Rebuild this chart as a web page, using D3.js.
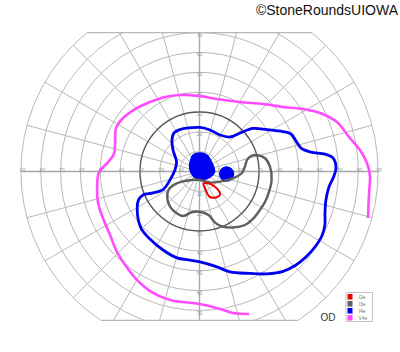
<!DOCTYPE html>
<html>
<head>
<meta charset="utf-8">
<script src="https://cdn.jsdelivr.net/npm/d3@7"></script>
<style>
  body { margin: 0; background: #fff; }
  svg { display: block; font-family: "Liberation Sans", Arial, sans-serif; }
</style>
</head>
<body>
<script>
// Goldmann field, right eye (OD)
// points are [meridian in degrees (0 = right, 90 = up), eccentricity in degrees]

const ringValues = [10, 20, 30, 40, 50, 60, 70, 80, 90];
const meridians = d3.range(0, 360, 15);
const horizontalTicks = [10, 20, 30, 40, 50, 60, 70, 80, 90];
const verticalTicks = [10, 20, 30, 40, 50, 60, 70];
const superiorLimit = 70;
const inferiorLimit = 75;

const isopterNames = ['I2e', 'I3e', 'I4e', 'V4e'];
const isopterColors = ['#ee0000', '#5f5f5f', '#0000f0', '#ff4cff'];

const v4e = [
  [344.6, 88.1], [352.1, 86.2], [358.8, 85.9], [2.9, 84.5], [7.6, 81.6], [13.0, 77.3],
  [19.8, 73.6], [25.9, 67.5], [31.1, 60.9], [37.7, 53.2], [46.7, 46.7], [59.8, 40.5],
  [76.4, 37.6], [89.6, 38.0], [104.3, 39.8], [114.8, 41.4], [125.5, 43.0], [135.9, 45.2],
  [145.0, 47.0], [152.5, 47.4], [162.6, 44.6], [168.5, 44.0], [174.5, 46.5], [180.3, 50.6],
  [188.6, 52.2], [197.2, 53.5], [205.7, 54.0], [215.4, 55.3], [224.3, 58.1], [231.5, 60.2],
  [238.8, 62.7], [247.5, 65.2], [257.1, 66.4], [270.2, 66.8], [278.5, 70.0], [283.3, 73.3],
  [289.2, 76.0]
];

const i4e = [
  [89.3, 22.2], [75.8, 21.6], [60.7, 21.1], [48.5, 23.2], [43.5, 28.2], [38.8, 34.6],
  [31.9, 40.0], [25.6, 46.6], [22.3, 49.8], [17.5, 51.0], [13.0, 52.5], [9.9, 57.0],
  [7.9, 63.8], [5.8, 67.6], [1.5, 68.8], [358.1, 67.8], [353.2, 65.7], [347.3, 65.3],
  [341.7, 66.6], [336.9, 68.7], [332.2, 69.7], [326.8, 69.5], [321.2, 68.8], [315.9, 67.7],
  [309.9, 65.6], [303.4, 61.8], [296.3, 57.3], [286.9, 52.9], [280.4, 48.9], [270.3, 45.6],
  [260.6, 44.9], [255.4, 45.0], [245.1, 43.6], [233.7, 42.2], [224.0, 41.0], [214.4, 37.9],
  [205.0, 33.9], [202.6, 30.8], [204.8, 25.8], [206.3, 20.5], [196.1, 15.5], [176.5, 12.4],
  [157.6, 12.5], [140.9, 17.2], [131.1, 21.1], [123.5, 23.3], [114.9, 23.3], [104.8, 22.7]
];

const i3e = [
  [273.4, 4.3], [313.7, 7.7], [333.5, 11.5], [348.5, 17.2], [357.6, 21.3], [6.0, 23.0],
  [13.6, 24.6], [16.8, 27.1], [16.0, 30.1], [11.4, 33.7], [3.9, 35.6], [353.3, 36.6],
  [343.6, 36.5], [335.0, 36.4], [327.5, 36.1], [318.4, 36.0], [310.4, 35.4], [300.9, 32.9],
  [292.2, 29.9], [286.9, 26.9], [281.7, 22.4], [270.7, 20.3], [259.2, 20.9], [250.0, 23.9],
  [241.4, 24.0], [230.0, 23.1], [219.8, 21.1], [210.8, 18.2], [207.3, 14.8], [209.8, 10.3],
  [227.5, 5.8]
];

const i2e = [
  [288.4, 6.4], [308.4, 7.7], [315.0, 10.3], [315.0, 13.9], [311.1, 15.7], [302.4, 15.5],
  [292.4, 13.9], [289.2, 11.5], [288.4, 8.8]
];

// filled scotomas (I4e not seen)
const centralScotoma = [
  [111.5, 8.9], [88.5, 9.3], [65.6, 9.1], [46.3, 8.0], [19.7, 7.5], [358.1, 7.6],
  [332.4, 6.0], [293.6, 4.4], [243.4, 3.9], [190.0, 4.3], [151.2, 5.7], [124.2, 7.6]
];
const blindSpot = [
  [4.0, 10.9], [9.6, 13.5], [5.4, 15.9], [355.8, 17.2], [344.4, 16.0], [339.8, 13.1],
  [347.6, 10.6]
];

const width = 400;
const height = 352;
const cx = 199.5;
const cy = 171.5;

const r = d3.scaleLinear()
  .domain([0, 90])
  .range([0, 178.6]);

const toAngle = m => (90 - m) * Math.PI / 180;

const svg = d3.select('body')
  .append('svg')
  .attr('width', width)
  .attr('height', height);

svg.append('text')
  .text('\u00a9StoneRoundsUIOWA')
  .attr('x', 398)
  .attr('y', 15)
  .attr('text-anchor', 'end')
  .attr('font-size', 14)
  .attr('fill', '#111');

const chart = svg.append('g')
  .attr('transform', `translate(${cx}, ${cy})`);

const yTop = -r(superiorLimit);
const yBottom = r(inferiorLimit);

svg.append('clipPath')
  .attr('id', 'field')
  .append('rect')
  .attr('x', -r(90) - 2)
  .attr('y', yTop)
  .attr('width', 2 * r(90) + 4)
  .attr('height', yBottom - yTop);

const grid = chart.append('g')
  .attr('clip-path', 'url(#field)');

grid.selectAll('line.radial')
  .data(meridians.filter(m => m % 90 != 0))
  .enter()
  .append('line')
  .attr('class', 'radial')
  .attr('x1', 0)
  .attr('y1', 0)
  .attr('x2', d => r(90) * Math.cos(d * Math.PI / 180))
  .attr('y2', d => -r(90) * Math.sin(d * Math.PI / 180))
  .attr('stroke', '#b8b8b8')
  .attr('stroke-width', 1);

grid.selectAll('line.axis')
  .data([0, 90, 180, 270])
  .enter()
  .append('line')
  .attr('class', 'axis')
  .attr('x1', 0)
  .attr('y1', 0)
  .attr('x2', d => r(90) * Math.cos(d * Math.PI / 180))
  .attr('y2', d => -r(90) * Math.sin(d * Math.PI / 180))
  .attr('stroke', '#a8a8a8')
  .attr('stroke-width', 1.4);

grid.selectAll('circle.ring')
  .data(ringValues)
  .enter()
  .append('circle')
  .attr('class', 'ring')
  .attr('r', d => r(d))
  .attr('fill', 'none')
  .attr('stroke', d => d == 30 ? '#555' : '#b8b8b8')
  .attr('stroke-width', d => d == 30 ? 1.4 : 1);

// flat top and bottom of the chart
[yTop, yBottom].forEach(y => {
  const half = Math.sqrt(r(90) * r(90) - y * y);
  chart.append('line')
    .attr('x1', -half)
    .attr('x2', half)
    .attr('y1', y)
    .attr('y2', y)
    .attr('stroke', '#b8b8b8')
    .attr('stroke-width', 1.2);
});

const labels = chart.append('g')
  .attr('font-size', 5)
  .attr('fill', '#9a9a9a')
  .attr('text-anchor', 'middle')
  .attr('dominant-baseline', 'central');

labels.selectAll('text.right')
  .data(horizontalTicks)
  .enter()
  .append('text')
  .text(d => d)
  .attr('x', d => r(d) + 1)
  .attr('y', -1.5);

labels.selectAll('text.left')
  .data(horizontalTicks)
  .enter()
  .append('text')
  .text(d => d)
  .attr('x', d => -r(d) + 1.5)
  .attr('y', -1.5);

labels.selectAll('text.up')
  .data(verticalTicks)
  .enter()
  .append('text')
  .text(d => d)
  .attr('x', 0)
  .attr('y', d => -r(d) + 2);

labels.selectAll('text.down')
  .data(verticalTicks)
  .enter()
  .append('text')
  .text(d => d)
  .attr('x', 0)
  .attr('y', d => r(d) + 2.5);

const closedLine = d3.lineRadial()
  .angle(d => toAngle(d[0]))
  .radius(d => r(d[1]))
  .curve(d3.curveCatmullRomClosed.alpha(0.5));

const openLine = d3.lineRadial()
  .angle(d => toAngle(d[0]))
  .radius(d => r(d[1]))
  .curve(d3.curveCatmullRom.alpha(0.5));

chart.append('path')
  .attr('d', openLine(v4e))
  .attr('fill', 'none')
  .attr('stroke', isopterColors[3])
  .attr('stroke-width', 2.6)
  .attr('stroke-linecap', 'butt');

chart.append('path')
  .attr('d', closedLine(i4e))
  .attr('fill', 'none')
  .attr('stroke', isopterColors[2])
  .attr('stroke-width', 2.8);

chart.selectAll('path.scotoma')
  .data([centralScotoma, blindSpot])
  .enter()
  .append('path')
  .attr('class', 'scotoma')
  .attr('d', closedLine)
  .attr('fill', isopterColors[2])
  .attr('stroke', isopterColors[2])
  .attr('stroke-width', 1.5);

chart.append('path')
  .attr('d', closedLine(i3e))
  .attr('fill', 'none')
  .attr('stroke', isopterColors[1])
  .attr('stroke-width', 2.4);

chart.append('path')
  .attr('d', closedLine(i2e))
  .attr('fill', 'none')
  .attr('stroke', isopterColors[0])
  .attr('stroke-width', 2);

// eye label and legend
svg.append('text')
  .text('OD')
  .attr('x', 328)
  .attr('y', 320.5)
  .attr('text-anchor', 'middle')
  .attr('font-size', 10)
  .attr('fill', '#333');

const legend = svg.append('g')
  .attr('transform', 'translate(346, 292.5)');

legend.append('rect')
  .attr('width', 26.5)
  .attr('height', 29)
  .attr('fill', '#fff')
  .attr('stroke', '#c4c4c4')
  .attr('stroke-width', 1);

const rowY = d3.scaleBand()
  .domain(isopterNames)
  .range([1.5, 28])
  .paddingInner(0.2);

legend.selectAll('rect.swatch')
  .data(isopterNames)
  .enter()
  .append('rect')
  .attr('class', 'swatch')
  .attr('x', 1.5)
  .attr('y', d => rowY(d))
  .attr('width', 5)
  .attr('height', rowY.bandwidth())
  .attr('fill', (d, i) => isopterColors[i]);

legend.selectAll('text')
  .data(isopterNames)
  .enter()
  .append('text')
  .text(d => d)
  .attr('x', 12.5)
  .attr('y', d => rowY(d) + rowY.bandwidth() / 2)
  .attr('dominant-baseline', 'central')
  .attr('font-size', 5)
  .attr('fill', '#777');
</script>
</body>
</html>
